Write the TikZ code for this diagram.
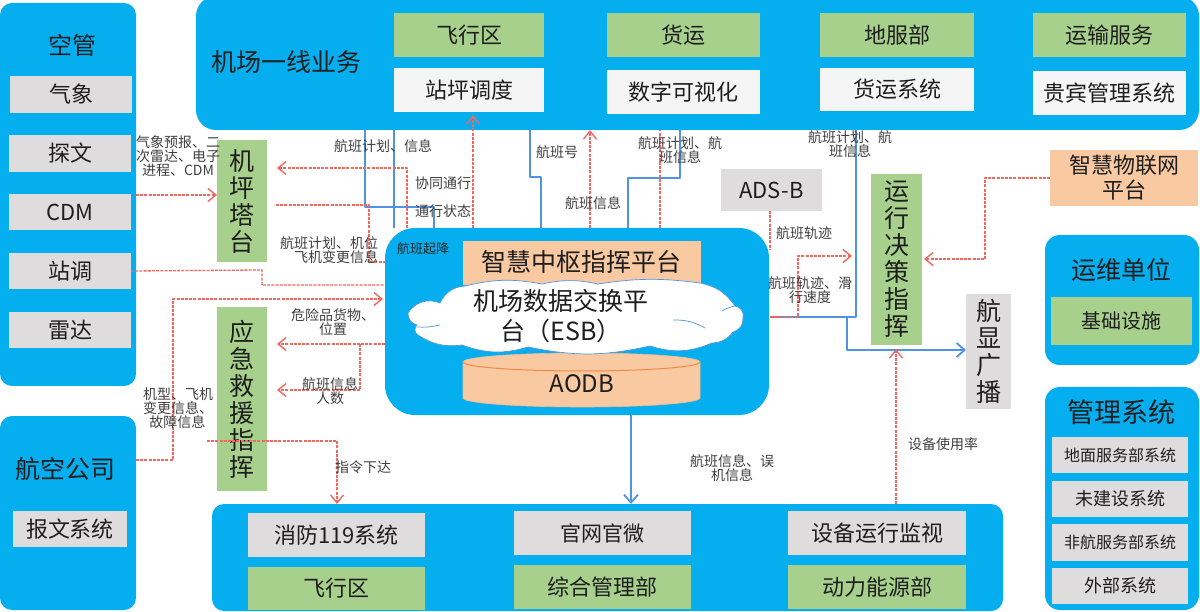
\documentclass[tikz,border=0pt]{standalone}
\usepackage{fontspec}
\setmainfont{Noto Sans CJK SC}
\usetikzlibrary{arrows.meta}
\definecolor{panelblue}{HTML}{05AEEE}
\definecolor{boxgreen}{HTML}{A6D08C}
\definecolor{boxgrey}{HTML}{DEDCDC}
\definecolor{boxorange}{HTML}{F9C9A2}
\definecolor{cylorange}{HTML}{F08A45}
\definecolor{linkblue}{HTML}{4F94E4}
\definecolor{linkred}{HTML}{F2675E}
\definecolor{inktext}{HTML}{1E1E1E}
\newcommand{\fs}[1]{\fontsize{#1}{#1}\selectfont}
\tikzset{
  x=1pt,y=-1pt,
  base/.style={inner sep=0pt,outer sep=0pt,text=inktext,align=center},
  panel/.style={base,fill=panelblue,rounded corners=12pt},
  greenbox/.style={base,fill=boxgreen},
  greybox/.style={base,fill=boxgrey},
  whitebox/.style={base,fill=white!96!black},
  orangebox/.style={base,fill=boxorange},
  bigtext/.style={font=\fs{22}},
  smalltext/.style={font=\fs{16}},
  listtext/.style={font=\fs{18}},
  vert/.style={font=\fs{25}},
  title/.style={base,font=\fs{25}},
  note/.style={base,font=\fs{14},text=inktext!85},
  bluelink/.style={draw=linkblue,line width=2pt,line join=round},
  redlink/.style={draw=linkred,line width=1.3pt,dash pattern=on 3pt off 1.2pt,line join=round},
  blueend/.style={-{Straight Barb[length=8pt,width=14pt,line width=1.8pt]}},
  redend/.style={-{Straight Barb[length=8pt,width=13pt,line width=1.4pt]}},
}
\newcommand{\bx}[7]{\node[#2,minimum width={(#5-#3)*1pt},minimum height={(#6-#4)*1pt}] (#1) at ({(#3+#5)/2},{(#4+#6)/2}) {#7};}
\begin{document}
\begin{tikzpicture}
\useasboundingbox (0,0) rectangle (1200,612);
\fill[white] (0,0) rectangle (1200,612);
% panels
\bx{pkg}{panel}{0}{3}{136}{386}{}
\bx{pair}{panel}{0}{416}{136}{610}{}
\bx{ptop}{panel,rounded corners=20pt}{196}{-4}{1199}{130}{}
\bx{hub}{panel,rounded corners=30pt}{385}{228}{769}{415}{}
\bx{pbot}{panel}{212}{504}{1003}{611}{}
\bx{pops}{panel,rounded corners=15pt}{1045}{235}{1199}{365}{}
\bx{pmgt}{panel,rounded corners=15pt}{1045}{387}{1199}{610}{}
% panel titles
\node[title,font=\fs{24}] (tkg) at (72,45) {空管};
\node[title] (tair) at (66,469) {航空公司};
\node[title] (ttop) at (286,62) {机场一线业务};
\node[title] (tops) at (1121,270) {运维单位};
\node[title,font=\fs{27}] (tmgt) at (1121,412) {管理系统};
% left column
\bx{qx}{greybox,bigtext}{10}{76}{132}{113}{气象}
\bx{tw}{greybox,bigtext}{9}{135}{131}{172}{探文}
\bx{cdm}{greybox,bigtext}{9}{194}{131}{230}{CDM}
\bx{zd}{greybox,bigtext}{9}{253}{131}{289}{站调}
\bx{ld}{greybox,bigtext}{9}{312}{131}{348}{雷达}
\bx{bw}{greybox,bigtext}{13}{511}{127}{547}{报文系统}
% top row
\bx{t1}{greenbox,bigtext}{394}{13}{544}{57}{飞行区}
\bx{t2}{greenbox,bigtext}{607}{13}{760}{57}{货运}
\bx{t3}{greenbox,bigtext}{820}{13}{974}{57}{地服部}
\bx{t4}{greenbox,bigtext}{1033}{13}{1186}{57}{运输服务}
\bx{u1}{whitebox,bigtext}{394}{68}{544}{112}{站坪调度}
\bx{u2}{whitebox,bigtext}{607}{70}{760}{114}{数字可视化}
\bx{u3}{whitebox,bigtext}{820}{68}{974}{111}{货运系统}
\bx{u4}{whitebox,bigtext}{1033}{71}{1186}{115}{贵宾管理系统}
% hub content
\bx{zh}{orangebox,font=\fs{25}}{463}{241}{701}{285}{}
\node[base,font=\fs{25}] (zht) at (581,262) {智慧中枢指挥平台};
% database cylinder
\fill[boxorange,draw=cylorange!60,line width=.6pt] (463,362) -- (463,398) arc[start angle=180,end angle=0,x radius=118.5,y radius=9] -- (700,362) arc[start angle=0,end angle=-180,x radius=118.5,y radius=9] -- cycle;
\draw[cylorange,line width=1pt] (463,362) arc[start angle=180,end angle=0,x radius=118.5,y radius=9];
\node[base,font=\fs{24}] (aodb) at (582,384) {AODB};
% cloud
\draw[fill=white,draw=linkblue,line width=.7pt]
  (408,313) to[bend left=40] (440,303) to[bend left=30] (465,286) to[bend left=12] (542,284)
  to[bend left=12] (598,284) to[bend left=8] (700,283) to[bend left=22] (735,306)
  to[bend left=50] (743,318) to[bend left=40] (733,332) to[bend left=25] (712,343)
  to[bend left=20] (650,346) to[bend left=12] (528,347) to[bend left=18] (462,345)
  to[bend left=20] (418,335) to[bend left=60] (417,325) to[bend left=40] cycle;
\draw[linkblue,line width=.7pt] (673,320) to[bend left=15] (705,328);
\draw[linkblue,line width=.7pt] (722,311) to[bend left=10] (735,306);
\draw[linkblue,line width=.7pt] (417,327) to[bend right=8] (440,325);
\draw[linkblue,line width=.7pt] (528,347) to[bend right=20] (535,352);
\node[base,font=\fs{25}] (esbt) at (561,316) {机场数据交换平\\[5pt]台（ESB）};
% green/grey blocks
\bx{tower}{greenbox,vert}{217}{140}{267}{262}{机\\[2pt]坪\\[2pt]塔\\[2pt]台}
\bx{rescue}{greenbox,vert}{217}{307}{267}{491}{应\\[2pt]急\\[2pt]救\\[2pt]援\\[2pt]指\\[2pt]挥}
\bx{ops}{greenbox,vert}{871}{174}{922}{345}{运\\[2pt]行\\[2pt]决\\[2pt]策\\[2pt]指\\[2pt]挥}
\bx{fids}{greybox,vert}{966}{294}{1011}{409}{航\\[2pt]显\\[2pt]广\\[2pt]播}
\bx{ads}{greybox,font=\fs{22}}{721}{169}{822}{211}{ADS-B}
\bx{iot}{orangebox,bigtext}{1050}{150}{1198}{206}{智慧物联网\\[3pt]平台}
% right panels
\bx{infra}{greenbox,font=\fs{20}}{1051}{297}{1192}{345}{基础设施}
\bx{m1}{greybox,smalltext}{1052}{437}{1188}{473}{地面服务部系统}
\bx{m2}{greybox,listtext}{1052}{481}{1188}{517}{未建设系统}
\bx{m3}{greybox,smalltext}{1052}{524}{1188}{561}{非航服务部系统}
\bx{m4}{greybox,listtext}{1052}{568}{1188}{604}{外部系统}
% bottom panel
\bx{b1}{greybox,font=\fs{22}}{248}{513}{425}{557}{消防119系统}
\bx{b2}{greenbox,font=\fs{22}}{248}{567}{425}{610}{飞行区}
\bx{b3}{greybox,font=\fs{21}}{514}{511}{691}{555}{官网官微}
\bx{b4}{greenbox,font=\fs{22}}{514}{565}{691}{609}{综合管理部}
\bx{b5}{greybox,font=\fs{22}}{788}{511}{966}{555}{设备运行监视}
\bx{b6}{greenbox,font=\fs{22}}{788}{565}{966}{609}{动力能源部}
% helper coordinates
\coordinate (j1) at (369,205);
\coordinate (j2) at (365,207);
\coordinate (j3) at (360,344);
\coordinate (j4) at (770,317);
\coordinate (j5) at (847,317);
% blue links
\draw[bluelink] (ptop.south -| 365,0) -- (j2) -| (hub.north -| 434,0);
\draw[bluelink] (ptop.south -| 394,0) -- (hub.north -| 394,0);
\draw[bluelink] (ptop.south -| 530,0) |- (541,177) -- (hub.north -| 541,0);
\draw[bluelink] (ptop.south -| 680,0) |- (628,178) -- (hub.north -| 628,0);
\draw[bluelink] (j4) -- (856,317) -- (ptop.south -| 856,0);
\draw[bluelink,blueend] (j5) |- (fids.west |- 0,350);
\draw[bluelink,blueend] (hub.south -| 631,0) -- (pbot.north -| 631,0);
% red links
\draw[redlink,redend] (pkg.east |- 0,195) -- (tower.west |- 0,195);
\draw[redlink,redend] (hub.north -| 407,0) |- (277,168);
\draw[redlink] (276,205) -- (j1) |- (hub.west |- 0,262);
\draw[redlink,redend] (hub.north -| 473,0) -- (473,115);
\draw[redlink,redend] (hub.north -| 590,0) -- (ptop.south -| 590,0);
\draw[redlink] (hub.north -| 660,0) -- (ptop.south -| 660,0);
\draw[redlink] (zd.east) -- (262,270) |- (hub.west |- 0,285);
\draw[redlink,redend] (pair.east |- 0,460) -| (173,299) -- (383,299);
\draw[redlink,redend] (hub.west |- 0,344) -- (277,344);
\draw[redlink,redend] (j3) |- (277,390);
\draw[redlink,redend] (207,441) -| (pbot.north -| 337,0);
\draw[redlink] (ads.south -| 770,0) -- (770,250);
\draw[redlink,redend] (j4) -| (798,256) -- (852,256);
\draw[redlink,redend] (pbot.north -| 896,0) -- (896,349);
\draw[redlink,redend] (iot.west |- 0,178) -| (985,259) -- (924,259);
% labels
\node[note] (n1) at (383,146) {航班计划、信息};
\node[note] (n2) at (443,183) {协同通行};
\node[note] (n3) at (443,211) {通行状态};
\node[note,align=right,anchor=east] (n4) at (378,250) {航班计划、机位\\飞机变更信息};
\node[note,font=\fs{13},text=black!85] (n5) at (423,249) {航班起降};
\node[note] (n6) at (557,152) {航班号};
\node[note] (n7) at (593,203) {航班信息};
\node[note] (n8) at (680,150) {航班计划、航\\班信息};
\node[note] (n9) at (850,144) {航班计划、航\\班信息};
\node[note] (n10) at (804,233) {航班轨迹};
\node[note] (n11) at (810,290) {航班轨迹、滑\\行速度};
\node[note] (n12) at (333,322) {危险品货物、\\位置};
\node[note] (n13) at (330,391) {航班信息\\人数};
\node[note,align=left] (n14) at (178,408) {机型、飞机\\变更信息、\\\ \ 故障信息};
\node[note] (n15) at (363,467) {指令下达};
\node[note] (n16) at (732,468) {航班信息、误\\机信息};
\node[note] (n17) at (943,444) {设备使用率};
\node[note] (n18) at (178,156) {气象预报、二\\次雷达、电子\\进程、CDM};
\end{tikzpicture}
\end{document}
